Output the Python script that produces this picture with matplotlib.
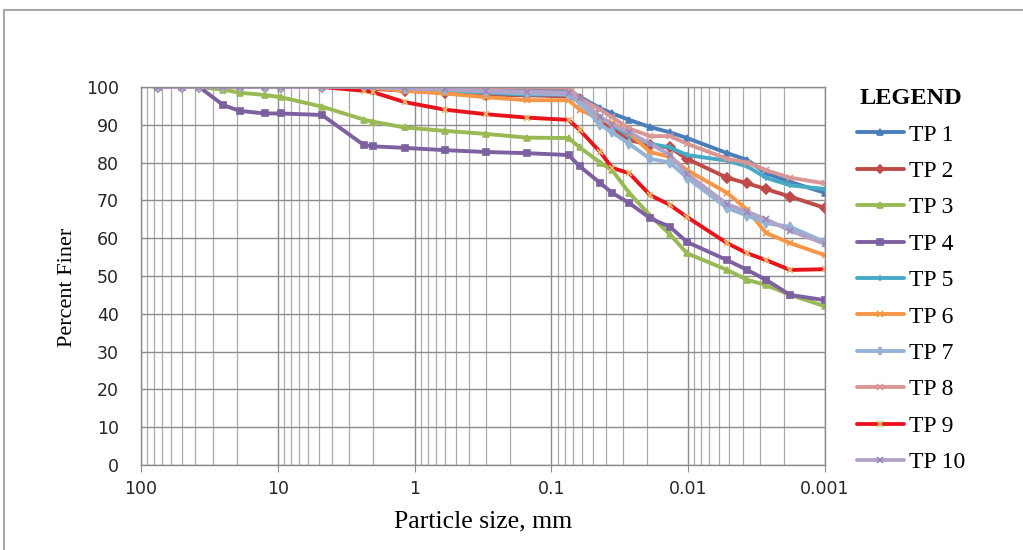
import matplotlib
matplotlib.use("Agg")
import matplotlib.pyplot as plt
from matplotlib.ticker import FixedLocator, LogLocator, NullFormatter
from matplotlib.patches import Rectangle
import numpy as np

# Sieve sizes (mm) followed by hydrometer sizes (mm)
sieve_sizes = [75, 50, 37.5, 25, 19, 12.5, 9.5, 4.75, 2.36, 2.0, 1.18, 0.6, 0.3, 0.15, 0.075]
hydro_sizes = [0.062, 0.044, 0.036, 0.027, 0.019, 0.0136, 0.0102, 0.0052, 0.0037, 0.0027, 0.0018, 0.001]

tp1 = [100, 100, 100, 100, 100, 100, 100, 100, 100, 100, 100, 99.8, 99.5, 99.3, 99.2,
       97.4, 94.4, 93.0, 91.3, 89.4, 88.0, 86.5, 82.5, 80.7, 77.2, 74.9, 72.0]
tp2 = [100, 100, 100, 100, 100, 100, 100, 100, 100, 99.5, 99.0, 98.5, 98.0, 97.8, 97.5,
       96.5, 91.0, 89.0, 86.0, 84.6, 84.0, 81.0, 76.0, 74.5, 73.0, 71.0, 68.0]
tp3 = [100, 100, 100, 99.3, 98.5, 97.9, 97.3, 94.8, 91.4, 90.8, 89.3, 88.4, 87.6, 86.6, 86.5,
       84.0, 80.0, 78.0, 72.0, 66.0, 61.0, 56.0, 51.6, 49.0, 47.6, 45.0, 42.0]
tp4 = [100, 100, 100, 95.2, 93.7, 93.0, 93.0, 92.6, 84.7, 84.3, 83.9, 83.3, 82.8, 82.5, 82.0,
       79.0, 74.6, 72.0, 69.3, 65.3, 63.0, 59.0, 54.2, 51.6, 49.0, 45.0, 43.6]
tp5 = [100, 100, 100, 100, 100, 100, 100, 100, 100, 100, 99.5, 99.0, 98.5, 98.0, 98.0,
       96.5, 92.0, 90.0, 87.0, 85.0, 84.0, 82.0, 80.5, 79.0, 76.0, 74.0, 73.0]
tp6 = [100, 100, 100, 100, 100, 100, 100, 100, 100, 99.8, 99.0, 98.3, 97.3, 96.5, 96.5,
       94.0, 91.5, 90.5, 87.8, 82.8, 81.5, 78.0, 72.0, 67.5, 61.4, 58.7, 55.5]
tp7 = [100, 100, 100, 100, 100, 100, 100, 100, 100, 100, 99.6, 99.3, 98.8, 98.3, 98.0,
       96.0, 90.0, 88.0, 85.0, 81.0, 80.0, 76.0, 68.0, 66.0, 64.0, 63.0, 59.0]
tp8 = [100, 100, 100, 100, 100, 100, 100, 100, 100, 100, 100, 100, 100, 99.9, 99.8,
       97.0, 94.0, 92.0, 89.0, 87.0, 87.0, 85.0, 81.0, 80.0, 78.0, 76.0, 74.5]
tp9 = [100, 100, 100, 100, 100, 100, 100, 100, 99.0, 98.6, 96.0, 94.0, 92.8, 91.9, 91.3,
       88.6, 82.8, 78.6, 77.2, 71.4, 68.8, 65.6, 58.7, 56.0, 54.2, 51.6, 51.8]
tp10 = [100, 100, 100, 100, 100, 100, 100, 100, 100, 100, 99.7, 99.4, 99.0, 98.8, 98.5,
        97.0, 92.0, 90.0, 88.0, 85.0, 82.0, 77.0, 69.0, 67.0, 65.0, 62.0, 58.5]

labels = ["TP 1", "TP 2", "TP 3", "TP 4", "TP 5", "TP 6", "TP 7", "TP 8", "TP 9", "TP 10"]
series = [tp1, tp2, tp3, tp4, tp5, tp6, tp7, tp8, tp9, tp10]
colors = ["#4A7EBB", "#BE4B48", "#98B954", "#7D60A0", "#46AAC5",
          "#F79646", "#95B3D7", "#D99694", "#E8141B", "#B3A2C7"]
markers = ["^", "D", "^", "s", "+", "x", "d", "x", "x", "x"]
mcolors = colors[:8] + ["#E8C070", "#9A88B8"]

x_ticks = [100, 10, 1, 0.1, 0.01, 0.001]
x_tick_labels = ["100", "10", "1", "0.1", "0.01", "0.001"]
y_ticks = [0, 10, 20, 30, 40, 50, 60, 70, 80, 90, 100]

sizes = sieve_sizes + hydro_sizes

fig = plt.figure(figsize=(10.23, 5.5), dpi=100)
ax = fig.add_axes([0.1378, 0.1545, 0.6687, 0.6873])

# frame around the chart
fig.patches.append(Rectangle((4 / 1023, -0.05), 1.1, 1 - 10 / 550 + 0.05,
                             transform=fig.transFigure, fill=False,
                             edgecolor="#A8A8A8", linewidth=1.5, zorder=0))

for y, lab, c, m, mc in zip(series, labels, colors, markers, mcolors):
    ax.plot(sizes, y, color=c, lw=2.8, marker=m, markersize=5,
            markerfacecolor=mc, markeredgecolor=mc, markeredgewidth=1.2,
            label=lab, solid_joinstyle="round", solid_capstyle="round")

ax.set_xscale("log")
ax.set_xlim(100, 0.001)
ax.set_ylim(0, 100)

ax.xaxis.set_major_locator(FixedLocator(x_ticks))
ax.set_xticklabels(x_tick_labels)
ax.xaxis.set_minor_locator(LogLocator(base=10, subs=np.arange(2, 10)))
ax.xaxis.set_minor_formatter(NullFormatter())
ax.set_yticks(y_ticks)

ax.grid(True, which="major", axis="both", color="#8C8C8C", lw=1.0)
ax.grid(True, which="minor", axis="x", color="#ABABAB", lw=0.9)
ax.set_axisbelow(True)

for s in ax.spines.values():
    s.set_color("#8C8C8C")
    s.set_linewidth(1.0)

ax.tick_params(axis="x", which="major", length=5, color="#8C8C8C", pad=6,
               labelsize=12.5)
ax.tick_params(axis="x", which="minor", length=0)
ax.tick_params(axis="y", length=0, pad=16, labelsize=12.5)
for t in ax.get_xticklabels() + ax.get_yticklabels():
    t.set_fontfamily("DejaVu Sans")
    t.set_color("#262626")

ax.set_ylabel("Percent Finer", family="Liberation Serif", fontsize=16)
ax.yaxis.set_label_coords(-0.093, 0.47)
ax.set_xlabel("Particle size, mm", family="Liberation Serif", fontsize=18.5, labelpad=9)

leg = ax.legend(loc="upper left", bbox_to_anchor=(1.015, 1.053), frameon=False,
                prop={"family": "Liberation Serif", "size": 17},
                title="LEGEND", title_fontproperties={"family": "Liberation Serif",
                                                      "size": 17.5, "weight": "bold"},
                handlelength=2.0, handletextpad=0.2, labelspacing=0.63,
                markerscale=0.9)

fig.savefig("out.png", dpi=100)
